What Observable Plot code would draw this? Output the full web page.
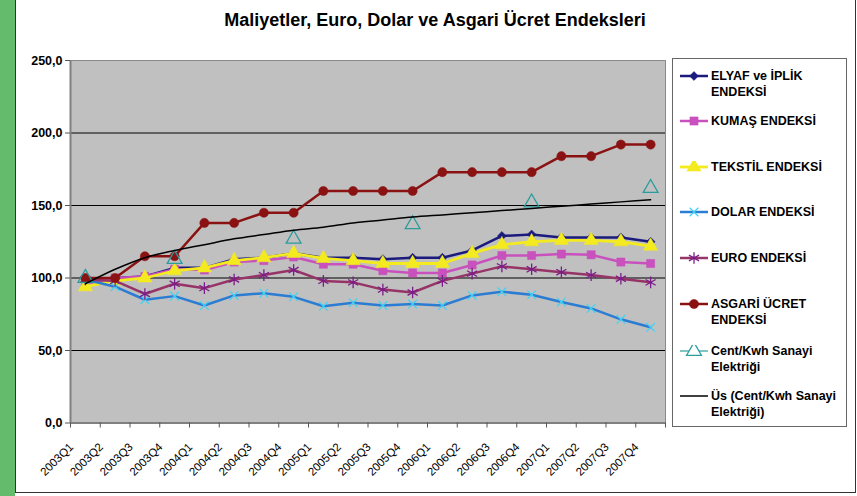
<!DOCTYPE html>
<html><head><meta charset="utf-8">
<script src="https://cdn.jsdelivr.net/npm/d3@7"></script>
<script src="https://cdn.jsdelivr.net/npm/@observablehq/plot@0.6"></script>
<style>
body{margin:0;background:#fff;font-family:"Liberation Sans",Arial,sans-serif;}
#wrap{position:relative;width:857px;height:496px;overflow:hidden;background:#fff}
#green{position:absolute;left:0;top:0;width:15px;height:496px;background:#63bb6b}
#box{position:absolute;left:15px;top:0;width:839px;height:492px;border-left:1px solid #333;border-right:1px solid #333;border-bottom:1px solid #333;}
#title{position:absolute;left:15px;width:840px;top:10px;text-align:center;font-weight:bold;font-size:18px;color:#000}
#chart{position:absolute;left:0;top:0}
#legend{position:absolute;left:672px;top:58px;width:173px;height:367px;border:1px solid #666;background:#fff}
.item{position:absolute;left:7px;font-weight:bold;font-size:12.5px;line-height:16px;color:#000}
.item svg{position:absolute;left:0;top:2px}
.item span{position:absolute;left:31px;top:0;white-space:nowrap}
</style></head>
<body>
<div id="wrap">
  <div id="green"></div>
  <div id="box"></div>
  <div id="chart"></div>
  <div id="title">Maliyetler, Euro, Dolar ve Asgari Ücret Endeksleri</div>
  <div id="legend"></div>
</div>
<script>
const quarters = ["2003Q1","2003Q2","2003Q3","2003Q4","2004Q1","2004Q2","2004Q3","2004Q4","2005Q1","2005Q2","2005Q3","2005Q4","2006Q1","2006Q2","2006Q3","2006Q4","2007Q1","2007Q2","2007Q3","2007Q4"];
const yTicks = [0, 50, 100, 150, 200, 250];
const elyaf   = [97, 100, 101, 107, 107, 113, 114, 117, 114, 114, 113, 114, 114, 119, 129, 130, 128, 128, 128, 125];
const kumas   = [96, 100, 101, 106, 105.5, 111, 112, 114.5, 109.5, 109.5, 105, 103.5, 103.5, 109, 115.5, 115.5, 116.5, 116, 111, 110];
const tekstil = [94, 98, 100, 105, 107, 112, 114, 117, 113.5, 112, 110, 110, 110, 117, 123, 125, 126, 126, 125, 122];
const dolar   = [99, 94, 85, 87.5, 81, 88, 89.5, 87, 80.5, 83, 81, 82, 81, 88, 90.5, 88.5, 83.5, 79, 71.5, 66];
const euro    = [99, 98, 89, 96, 93, 99, 102, 105.5, 98, 97, 92, 90, 98, 103, 108, 106, 104, 102, 99.5, 97];
const asgari  = [100, 100, 115, 115, 138, 138, 145, 145, 160, 160, 160, 160, 173, 173, 173, 173, 184, 184, 192, 192];
const cent    = [100, null, null, 113, null, null, null, 127, null, null, null, 137, null, null, null, 152, null, null, null, 162];
const us      = [96, 106, 114, 119, 123, 127, 130, 133, 135, 138, 140, 142, 143.5, 145, 146.5, 148, 149.5, 151, 152.5, 154];
const names = ["ELYAF ve İPLİK ENDEKSİ","KUMAŞ ENDEKSİ","TEKSTİL ENDEKSİ","DOLAR ENDEKSİ","EURO ENDEKSİ","ASGARİ ÜCRET ENDEKSİ","Cent/Kwh Sanayi Elektriği","Üs (Cent/Kwh Sanayi Elektriği)"];
const legendLines = [["ELYAF ve İPLİK","ENDEKSİ"],["KUMAŞ ENDEKSİ"],["TEKSTİL ENDEKSİ"],["DOLAR ENDEKSİ"],["EURO ENDEKSİ"],["ASGARİ ÜCRET","ENDEKSİ"],["Cent/Kwh Sanayi","Elektriği"],["Üs (Cent/Kwh Sanayi","Elektriği)"]];
const seriesValues = [elyaf, kumas, tekstil, dolar, euro, asgari, cent, us];

// styles (kept apart from the data)
const styles = [
  {line:"#1b1b7d", mark:"#1b1b7d", symbol:"diamond2", r:4, filled:true, w:2.5},
  {line:"#c951bd", mark:"#c951bd", symbol:"square", r:4.6, filled:true, w:2.5},
  {line:"#f3ea20", mark:"#f3ea20", symbol:"triangle", r:5.3, filled:true, w:2.8},
  {line:"#2b7cd3", mark:"#44d2f4", symbol:"times", r:4, filled:false, w:2.5},
  {line:"#973467", mark:"#7c1c88", symbol:"asterisk", r:5.5, filled:false, w:2.5},
  {line:"#8b1212", mark:"#8b1212", symbol:"circle", r:4.6, filled:true, w:2.5},
  {line:null, mark:"#2a9c9c", symbol:"triangle", r:5.5, filled:false, w:1.2},
  {line:"#000", mark:null, symbol:null, r:0, filled:false, w:1.5}
];

const rows = seriesValues.map((vals, s) => quarters.map((q, i) => ({q, i: i + 0.5, v: vals[i], s})).filter(d => d.v != null));
const labelRows = quarters.map((q, i) => ({q, i: i + 0.5}));

const marks = [
  Plot.frame({fill:"#c0c0c0", stroke:"none"}),
  Plot.ruleY([50,100,150,200], {stroke:"#000", strokeWidth:1}),
  Plot.frame({stroke:"#8a8a8a", strokeWidth:1}),
  Plot.ruleX([0], {stroke:"#808080", strokeWidth:2}),
  Plot.ruleY([0], {stroke:"#808080", strokeWidth:2}),
  Plot.axisY({ticks: yTicks, tickFormat: d => d.toFixed(1).replace(".", ","), tickSize:5, tickPadding:3, fontWeight:"bold", fontSize:12.5, label:null, stroke:"#555"}),
  Plot.axisX({ticks: d3.range(0, quarters.length + 1), tickFormat: () => "", tickSize:5, label:null, stroke:"#555"}),
  Plot.text(labelRows, {x:"i", text:"q", frameAnchor:"bottom", rotate:-45, textAnchor:"end", lineAnchor:"middle", dx:-14, dy:22, fontSize:11.5, fill:"#000"})
];
rows.forEach((data, s) => {
  const st = styles[s];
  if (st.line) marks.push(Plot.line(data, {x:"i", y:"v", stroke:st.line, strokeWidth:st.w, curve: s === 7 ? "monotone-x" : "linear"}));
  if (st.symbol) marks.push(Plot.dot(data, {x:"i", y:"v", symbol:() => st.symbol, r:st.r,
     fill: st.filled ? st.mark : "none", stroke: st.mark, strokeWidth: st.filled ? 0.5 : 1.3}));
});

const chart = Plot.plot({
  width: 857, height: 496,
  marginLeft: 70, marginRight: 192, marginTop: 60, marginBottom: 73.5,
  x: {type:"linear", domain:[0, quarters.length]},
  y: {domain:[0, 250]},
  symbol: {type:"identity"},
  style: {background:"transparent", fontFamily:"'Liberation Sans', Arial, sans-serif", color:"#000"},
  marks
});
document.getElementById("chart").appendChild(chart);

// legend
const legend = d3.select("#legend");
const tops = [9, 54, 100, 145, 191, 237, 284, 329];
names.forEach((n, s) => {
  const st = styles[s];
  const it = legend.append("div").attr("class", "item").style("top", tops[s] + "px").attr("title", n);
  const svg = it.append("svg").attr("width", 29).attr("height", 12);
  svg.append("line").attr("x1", 0).attr("x2", 28).attr("y1", 6).attr("y2", 6)
     .attr("stroke", st.line || st.mark).attr("stroke-width", st.w);
  if (st.symbol) {
    const map = {circle:d3.symbolCircle, square:d3.symbolSquare, triangle:d3.symbolTriangle, times:d3.symbolTimes, asterisk:d3.symbolAsterisk, diamond2:d3.symbolDiamond2};
    svg.append("path").attr("transform", "translate(14,6)")
      .attr("d", d3.symbol(map[st.symbol], Math.PI * st.r * st.r)())
      .attr("fill", st.filled ? st.mark : "#fff").attr("stroke", st.mark).attr("stroke-width", st.filled ? 0.5 : 1.3);
  }
  const sp = it.append("span");
  sp.html(legendLines[s].join("<br>"));
});
</script>
</body></html>
